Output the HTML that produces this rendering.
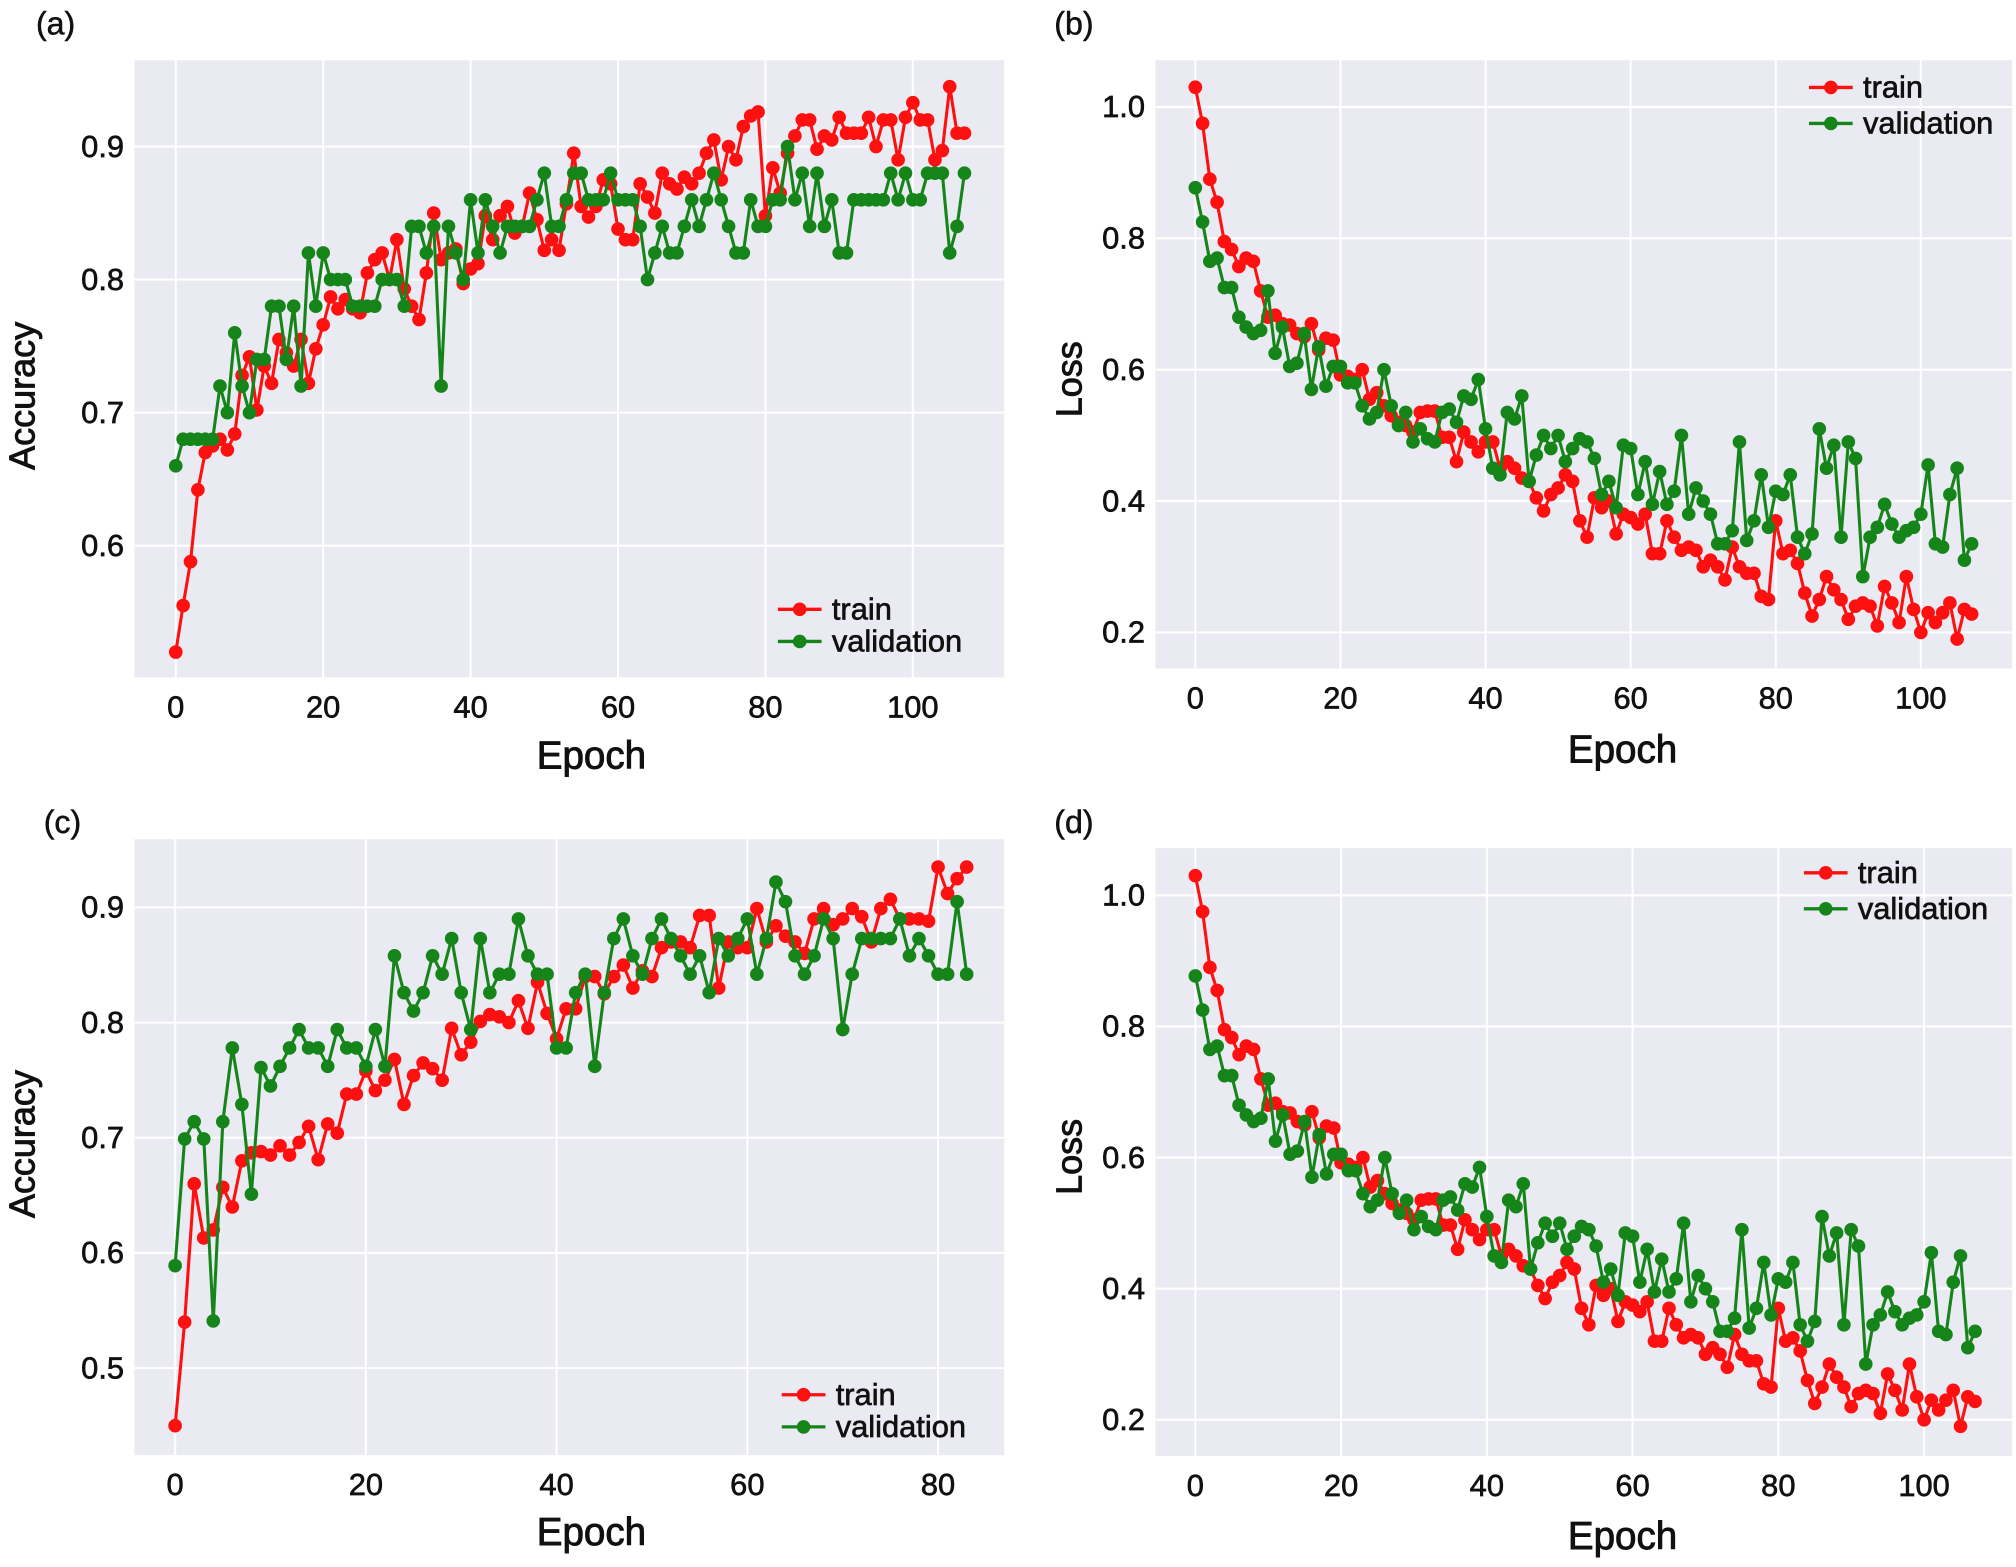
<!DOCTYPE html>
<html><head><meta charset="utf-8"><style>
html,body{margin:0;padding:0;background:#fff;}
svg{display:block;font-family:"Liberation Sans",Arial,sans-serif;}
</style></head><body>
<svg id="fig" width="2016" height="1567" viewBox="0 0 1568 1219" preserveAspectRatio="none" xmlns="http://www.w3.org/2000/svg"></svg>
<script>
const aTrain=[0.52,0.555,0.588,0.642,0.67,0.675,0.68,0.672,0.684,0.728,0.742,0.702,0.735,0.722,0.755,0.745,0.735,0.755,0.722,0.748,0.766,0.787,0.778,0.785,0.778,0.775,0.805,0.815,0.82,0.8,0.83,0.793,0.78,0.77,0.805,0.85,0.815,0.82,0.823,0.797,0.808,0.812,0.848,0.83,0.848,0.855,0.835,0.84,0.865,0.845,0.822,0.83,0.822,0.857,0.895,0.855,0.847,0.855,0.875,0.872,0.838,0.83,0.83,0.872,0.862,0.85,0.88,0.872,0.868,0.877,0.872,0.88,0.895,0.905,0.875,0.9,0.89,0.915,0.923,0.926,0.848,0.884,0.865,0.895,0.908,0.92,0.92,0.898,0.908,0.905,0.922,0.91,0.91,0.91,0.922,0.9,0.92,0.92,0.89,0.922,0.933,0.92,0.92,0.89,0.897,0.945,0.91,0.91];
const aVal=[0.66,0.68,0.68,0.68,0.68,0.68,0.72,0.70,0.76,0.72,0.70,0.74,0.74,0.78,0.78,0.74,0.78,0.72,0.82,0.78,0.82,0.80,0.80,0.80,0.78,0.78,0.78,0.78,0.80,0.80,0.80,0.78,0.84,0.84,0.82,0.84,0.72,0.84,0.82,0.80,0.86,0.82,0.86,0.84,0.82,0.84,0.84,0.84,0.84,0.86,0.88,0.84,0.84,0.86,0.88,0.88,0.86,0.86,0.86,0.88,0.86,0.86,0.86,0.84,0.80,0.82,0.84,0.82,0.82,0.84,0.86,0.84,0.86,0.88,0.86,0.84,0.82,0.82,0.86,0.84,0.84,0.86,0.86,0.90,0.86,0.88,0.84,0.88,0.84,0.86,0.82,0.82,0.86,0.86,0.86,0.86,0.86,0.88,0.86,0.88,0.86,0.86,0.88,0.88,0.88,0.82,0.84,0.88];
const bTrain=[1.03,0.975,0.89,0.855,0.795,0.783,0.757,0.77,0.765,0.72,0.68,0.683,0.67,0.668,0.655,0.65,0.67,0.63,0.648,0.645,0.592,0.59,0.585,0.60,0.555,0.565,0.545,0.53,0.52,0.515,0.505,0.535,0.537,0.537,0.497,0.497,0.46,0.505,0.49,0.475,0.49,0.49,0.45,0.46,0.45,0.435,0.43,0.405,0.385,0.41,0.42,0.44,0.43,0.37,0.345,0.405,0.39,0.40,0.35,0.38,0.375,0.365,0.38,0.32,0.32,0.37,0.345,0.325,0.33,0.325,0.30,0.31,0.30,0.28,0.33,0.30,0.29,0.29,0.255,0.25,0.37,0.32,0.325,0.305,0.26,0.225,0.25,0.285,0.265,0.25,0.22,0.24,0.245,0.24,0.21,0.27,0.245,0.215,0.285,0.235,0.2,0.23,0.215,0.23,0.245,0.19,0.235,0.228];
const bVal=[0.877,0.825,0.765,0.77,0.725,0.725,0.68,0.665,0.655,0.66,0.72,0.625,0.665,0.605,0.61,0.655,0.57,0.635,0.575,0.605,0.605,0.58,0.58,0.545,0.525,0.535,0.60,0.545,0.515,0.535,0.49,0.51,0.495,0.49,0.535,0.54,0.52,0.56,0.555,0.585,0.51,0.45,0.44,0.535,0.525,0.56,0.43,0.47,0.50,0.48,0.50,0.46,0.48,0.495,0.49,0.465,0.41,0.43,0.39,0.485,0.48,0.41,0.46,0.395,0.445,0.395,0.415,0.50,0.38,0.42,0.40,0.38,0.335,0.335,0.355,0.49,0.34,0.37,0.44,0.36,0.415,0.41,0.44,0.345,0.32,0.35,0.51,0.45,0.485,0.345,0.49,0.465,0.285,0.345,0.36,0.395,0.365,0.345,0.355,0.36,0.38,0.455,0.335,0.33,0.41,0.45,0.31,0.335];
const cTrain=[0.45,0.54,0.66,0.613,0.62,0.657,0.64,0.68,0.687,0.688,0.685,0.693,0.685,0.696,0.71,0.681,0.712,0.704,0.738,0.738,0.758,0.741,0.75,0.768,0.729,0.754,0.765,0.76,0.75,0.795,0.772,0.783,0.801,0.807,0.805,0.8,0.819,0.795,0.835,0.808,0.786,0.812,0.812,0.84,0.84,0.825,0.84,0.85,0.83,0.845,0.84,0.865,0.87,0.87,0.865,0.893,0.893,0.83,0.87,0.865,0.865,0.899,0.87,0.884,0.875,0.87,0.86,0.89,0.899,0.885,0.89,0.899,0.892,0.87,0.899,0.907,0.89,0.89,0.89,0.888,0.935,0.912,0.925,0.935];
const cVal=[0.589,0.699,0.714,0.699,0.541,0.714,0.778,0.729,0.651,0.761,0.745,0.762,0.778,0.794,0.778,0.778,0.762,0.794,0.778,0.778,0.762,0.794,0.762,0.858,0.826,0.81,0.826,0.858,0.842,0.873,0.826,0.794,0.873,0.826,0.842,0.842,0.89,0.858,0.842,0.842,0.778,0.778,0.826,0.842,0.762,0.826,0.873,0.89,0.858,0.842,0.873,0.89,0.873,0.858,0.842,0.858,0.826,0.873,0.858,0.873,0.89,0.842,0.873,0.922,0.905,0.858,0.842,0.858,0.89,0.873,0.794,0.842,0.873,0.873,0.873,0.873,0.89,0.858,0.873,0.858,0.842,0.842,0.905,0.842];
const dTrain=bTrain.slice();
const dVal=bVal.slice();
const xTicksABD=[0,20,40,60,80,100];
const xTicksC=[0,20,40,60,80];
const yTicksA=[0.6,0.7,0.8,0.9];
const yTicksB=[0.2,0.4,0.6,0.8,1.0];
const yTicksC=[0.5,0.6,0.7,0.8,0.9];
const yTicksD=[0.2,0.4,0.6,0.8,1.0];

const NS="http://www.w3.org/2000/svg";
const svg=document.getElementById('fig');
function mk(tag,attrs,parent){const e=document.createElementNS(NS,tag);for(const k in attrs)e.setAttribute(k,attrs[k]);(parent||svg).appendChild(e);return e;}

const panels=[
 {id:'a',label:'(a)',lx:28,ly:27,bg:[104.5,46.9,781,527],x0:[0,136.7],x1:[100,710],y0:[0.6,424.5],y1:[0.9,114],xt:xTicksABD,yt:yTicksA,train:aTrain,val:aVal,ylab:'Accuracy',ylx:18,yly:308,xlx:460,xly:598,leg:[605,474,499]},
 {id:'b',label:'(b)',lx:820,ly:27,bg:[898.6,46.9,1565,520],x0:[0,929.7],x1:[100,1494],y0:[0.2,492],y1:[1.0,83.2],xt:xTicksABD,yt:yTicksB,train:bTrain,val:bVal,ylab:'Loss',ylx:832,yly:295,xlx:1262,xly:593,leg:[1407,68,96]},
 {id:'c',label:'(c)',lx:34,ly:648,bg:[104.5,652.8,781,1132],x0:[0,136.2],x1:[80,729.6],y0:[0.5,1064.3],y1:[0.9,705.9],xt:xTicksC,yt:yTicksC,train:cTrain,val:cVal,ylab:'Accuracy',ylx:18,yly:890,xlx:460,xly:1202,leg:[608,1085,1110]},
 {id:'d',label:'(d)',lx:820,ly:648,bg:[898.6,659.8,1565,1132.7],x0:[0,929.7],x1:[100,1496.5],y0:[0.2,1104.5],y1:[1.0,696.5],xt:xTicksABD,yt:yTicksD,train:dTrain,val:dVal,ylab:'Loss',ylx:832,yly:900,xlx:1262,xly:1205,leg:[1403,679,707]}
];

panels.forEach(p=>{
 const g=mk('g',{});
 
 
 const sx=v=>p.x0[1]+(v-p.x0[0])*(p.x1[1]-p.x0[1])/(p.x1[0]-p.x0[0]);
 const sy=v=>p.y0[1]+(v-p.y0[0])*(p.y1[1]-p.y0[1])/(p.y1[0]-p.y0[0]);
 const [L,T,R,B]=p.bg;
 const bg=mk('rect',{x:L,y:T,width:R-L,height:B-T,fill:'#eaeaf2'},g);
 
 
 p.xt.forEach(t=>{
  const x=sx(t);
  const gl=mk('line',{x1:x,x2:x,y1:T,y2:B,stroke:'#fff','stroke-width':1.6},g);
  
  
  const tx=mk('text',{x:x,y:B+31,'text-anchor':'middle','font-size':24,fill:'#111',stroke:'#111','stroke-width':0.5},g);
  tx.textContent=t;
  
  
 });
 p.yt.forEach(t=>{
  const y=sy(t);
  const gl=mk('line',{x1:L,x2:R,y1:y,y2:y,stroke:'#fff','stroke-width':1.6},g);
  
  
  const tx=mk('text',{x:L-8,y:y+8,'text-anchor':'end','font-size':24,fill:'#111',stroke:'#111','stroke-width':0.5},g);
  tx.textContent=t.toFixed(1);
  
  
 });
 [['train',p.train,'#ff1010'],['validation',p.val,'#15851a']].forEach(([nm,arr,col])=>{
  const pts=arr.map((v,i)=>sx(i).toFixed(1)+','+sy(v).toFixed(1)).join(' ');
  const pl=mk('polyline',{points:pts,fill:'none',stroke:col,'stroke-width':2.4,'stroke-linejoin':'round'},g);
  
  
  arr.forEach((v,i)=>{
   const c=mk('circle',{cx:sx(i),cy:sy(v),r:5.3,fill:col},g);
   
   
  });
 });
 const xl=mk('text',{x:p.xlx,y:p.xly,'text-anchor':'middle','font-size':30,fill:'#111',stroke:'#111','stroke-width':0.7},g);
 xl.textContent='Epoch';
 
 
 const yl=mk('text',{x:0,y:0,'text-anchor':'middle','font-size':28,fill:'#111',stroke:'#111','stroke-width':0.7,transform:`translate(${p.ylx+9},${p.yly}) rotate(-90)`},g);
 yl.textContent=p.ylab;
 
 
 const pl=mk('text',{x:p.lx,y:p.ly,'font-size':25,fill:'#111',stroke:'#111','stroke-width':0.4},g);
 pl.textContent=p.label;
 
 
 const [lx,ly1,ly2]=p.leg;
 [['train',ly1,'#ff1010'],['validation',ly2,'#15851a']].forEach(([nm,y,col])=>{
  const lg=mk('g',{},g);
  
  
  mk('line',{x1:lx,x2:lx+34,y1:y,y2:y,stroke:col,'stroke-width':2.6},lg);
  mk('circle',{cx:lx+17,cy:y,r:5.3,fill:col},lg);
  const t=mk('text',{x:lx+42,y:y+8,'font-size':24,fill:'#111',stroke:'#111','stroke-width':0.5},lg);
  t.textContent=nm;
 });
});
</script>
</body></html>
